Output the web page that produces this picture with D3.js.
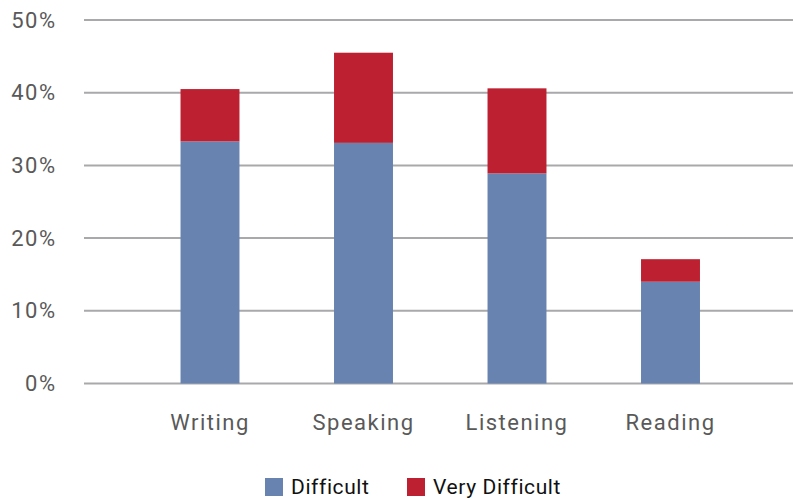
<!DOCTYPE html>
<html>
<head>
<meta charset="utf-8">
<script src="https://cdn.jsdelivr.net/npm/d3@7"></script>
<style>
  body { margin: 0; background: #fff; }
  svg { display: block; font-family: Roboto, "DejaVu Sans", sans-serif; }
</style>
</head>
<body>
<svg width="793" height="499"></svg>
<script>
const categories = ['Writing', 'Speaking', 'Listening', 'Reading']
const difficult = [33.3, 33.1, 28.9, 14.0]
const veryDifficult = [7.2, 12.4, 11.7, 3.1]
const yTicks = [0, 10, 20, 30, 40, 50]
const seriesNames = ['Difficult', 'Very Difficult']
const seriesColors = ['#6883b0', '#bd2031']

const svg = d3.select('svg')
const width = 793

// stacked rows built from the arrays above
const rows = categories.map((c, i) => ({ cat: c, Difficult: difficult[i], 'Very Difficult': veryDifficult[i] }))
const stack = d3.stack().keys(seriesNames)(rows)

const x = d3.scaleBand()
  .domain(categories)
  .range([133.25, 747.25])
  .paddingInner(0.616)
  .paddingOuter(0.308)

const y = d3.scaleLinear().domain([0, 50]).range([383.5, 20])

// gridlines
svg.append('g').attr('class', 'grid')
  .selectAll('line')
  .data(yTicks)
  .join('line')
  .attr('x1', 84)
  .attr('x2', width)
  .attr('y1', d => y(d))
  .attr('y2', d => y(d))
  .attr('stroke', '#a9a9ab')
  .attr('stroke-width', 2)

// y axis labels
const yAxis = svg.append('g')
  .attr('transform', 'translate(56.5,0)')
  .call(d3.axisLeft(y).tickValues(yTicks).tickFormat(d => d + '%').tickSize(0).tickPadding(0))
yAxis.select('.domain').remove()
yAxis.selectAll('text')
  .attr('font-size', 22)
  .attr('letter-spacing', 1.5)
  .attr('font-family', 'Roboto, sans-serif')
  .attr('fill', '#595959')

// bars
svg.append('g').attr('class', 'bars')
  .selectAll('g')
  .data(stack)
  .join('g')
  .attr('fill', (d, i) => seriesColors[i])
  .selectAll('rect')
  .data(d => d)
  .join('rect')
  .attr('x', d => x(d.data.cat))
  .attr('width', x.bandwidth())
  .attr('y', d => y(d[1]))
  .attr('height', d => y(d[0]) - y(d[1]))

// x axis labels
const xAxis = svg.append('g')
  .attr('transform', 'translate(0,383)')
  .call(d3.axisBottom(x).tickSize(0).tickPadding(31))
xAxis.select('.domain').remove()
xAxis.selectAll('text')
  .attr('font-size', 22)
  .attr('letter-spacing', 1.5)
  .attr('font-family', 'Roboto, sans-serif')
  .attr('fill', '#595959')

// legend
const legendX = [265, 407]
const legend = svg.append('g').attr('class', 'legend')
  .selectAll('g')
  .data(seriesNames)
  .join('g')
  .attr('transform', (d, i) => `translate(${legendX[i]},478)`)
legend.append('rect')
  .attr('width', 18)
  .attr('height', 18)
  .attr('fill', (d, i) => seriesColors[i])
legend.append('text')
  .attr('x', 26)
  .attr('y', 16)
  .attr('font-size', 21)
  .attr('letter-spacing', 0.6)
  .attr('fill', '#111')
  .text(d => d)
</script>
</body>
</html>
